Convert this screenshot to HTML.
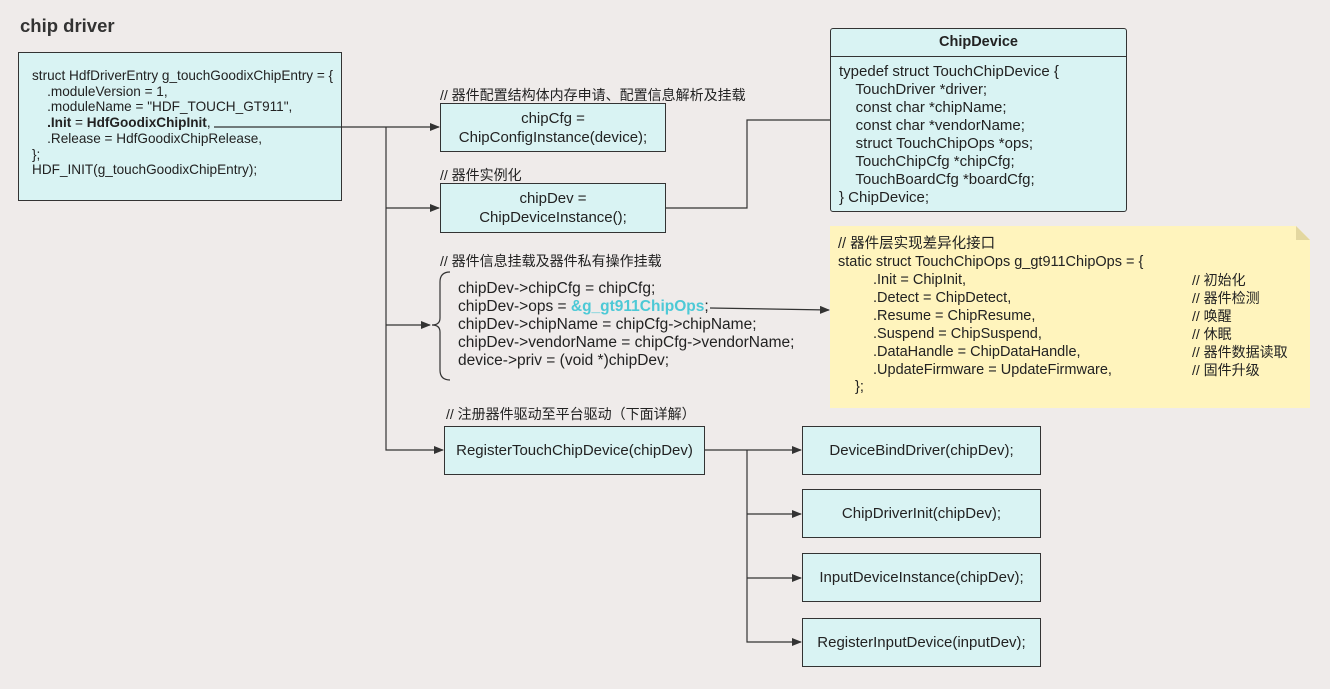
<!DOCTYPE html>
<html><head><meta charset="utf-8"><style>
body{margin:0;width:1330px;height:689px;background:#efebea;position:relative;overflow:hidden;font-family:"Liberation Sans","Noto Sans CJK SC",sans-serif;color:#222}
.a{position:absolute}
.box{position:absolute;background:#d9f3f3;border:1.3px solid #333;box-sizing:border-box}
.c{display:flex;align-items:center;justify-content:center;text-align:center;font-size:15px;line-height:19px}
.t{font-size:13.6px;line-height:15.7px;white-space:pre}
.lbl{position:absolute;font-size:14px;white-space:pre}
</style></head><body>
<div class="a" style="left:20px;top:15px;font-size:18.5px;font-weight:bold;color:#333">chip driver</div>
<div class="box" style="left:18px;top:52px;width:324px;height:149px"><div class="t" style="position:absolute;left:13px;top:15px">struct HdfDriverEntry g_touchGoodixChipEntry = {
    .moduleVersion = 1,
    .moduleName = "HDF_TOUCH_GT911",
    <b>.Init</b> = <b>HdfGoodixChipInit</b>,
    .Release = HdfGoodixChipRelease,
};
HDF_INIT(g_touchGoodixChipEntry);</div></div>

<svg class="a" style="left:0;top:0" width="1330" height="689">
<defs><marker id="m" markerWidth="10" markerHeight="8" refX="9" refY="4" orient="auto" markerUnits="userSpaceOnUse"><path d="M0,0 L10,4 L0,8z" fill="#333"/></marker></defs>
<g stroke="#333" stroke-width="1.2" fill="none">
<path d="M214,127 H439" marker-end="url(#m)"/>
<path d="M386,127 V450 H443" marker-end="url(#m)"/>
<path d="M386,208 H439" marker-end="url(#m)"/>
<path d="M386,325 H430" marker-end="url(#m)"/>
<path d="M665,208 H747 V120 H830"/>
<path d="M710,308 L829,310" marker-end="url(#m)"/>
<path d="M704,450 H801" marker-end="url(#m)"/>
<path d="M747,450 V642 H801" marker-end="url(#m)"/>
<path d="M747,514 H801" marker-end="url(#m)"/>
<path d="M747,578 H801" marker-end="url(#m)"/>
<path d="M450,272 Q440,272 440,282 V318 Q440,325 432,325 Q440,325 440,332 V370 Q440,380 450,380"/>
</g>
<path d="M830,226 H1296 L1310,240 V408 H830Z" fill="#fff4bd"/>
<path d="M1296,226 L1310,240 H1296Z" fill="#e3d7a0"/>
</svg>

<div class="lbl" style="left:440px;top:85px">// 器件配置结构体内存申请、配置信息解析及挂载</div>
<div class="box c" style="left:440px;top:103px;width:226px;height:49px">chipCfg =<br>ChipConfigInstance(device);</div>
<div class="lbl" style="left:440px;top:165px">// 器件实例化</div>
<div class="box c" style="left:440px;top:183px;width:226px;height:50px">chipDev =<br>ChipDeviceInstance();</div>

<div class="box" style="left:830px;top:28px;width:297px;height:184px;border-radius:3px">
<div style="height:27px;border-bottom:1.3px solid #333;text-align:center;font-weight:bold;font-size:14.5px;line-height:27px">ChipDevice</div>
<div style="position:absolute;left:8px;top:34px;font-size:15px;line-height:18px;white-space:pre">typedef struct TouchChipDevice {
    TouchDriver *driver;
    const char *chipName;
    const char *vendorName;
    struct TouchChipOps *ops;
    TouchChipCfg *chipCfg;
    TouchBoardCfg *boardCfg;
} ChipDevice;</div></div>

<div class="lbl" style="left:440px;top:251px">// 器件信息挂载及器件私有操作挂载</div>
<div class="a" style="left:458px;top:280px;font-size:15.5px;line-height:18px;white-space:pre">chipDev-&gt;chipCfg = chipCfg;
chipDev-&gt;ops = <b style="color:#4dc9d6">&amp;g_gt911ChipOps</b>;
chipDev-&gt;chipName = chipCfg-&gt;chipName;
chipDev-&gt;vendorName = chipCfg-&gt;vendorName;
device-&gt;priv = (void *)chipDev;</div>

<div class="a" style="left:838px;top:235px;font-size:14.5px;line-height:18px;white-space:pre">// 器件层实现差异化接口
static struct TouchChipOps g_gt911ChipOps = {</div>
<div class="a" style="left:873px;top:271px;font-size:14.5px;line-height:18px;white-space:pre">.Init = ChipInit,
.Detect = ChipDetect,
.Resume = ChipResume,
.Suspend = ChipSuspend,
.DataHandle = ChipDataHandle,
.UpdateFirmware = UpdateFirmware,</div>
<div class="a" style="left:1192px;top:271px;font-size:14px;line-height:18px;white-space:pre">// 初始化
// 器件检测
// 唤醒
// 休眠
// 器件数据读取
// 固件升级</div>
<div class="a" style="left:855px;top:379px;font-size:14.5px">};</div>

<div class="lbl" style="left:446px;top:404px">// 注册器件驱动至平台驱动（下面详解）</div>
<div class="box c" style="left:444px;top:426px;width:261px;height:49px">RegisterTouchChipDevice(chipDev)</div>
<div class="box c" style="left:802px;top:426px;width:239px;height:49px">DeviceBindDriver(chipDev);</div>
<div class="box c" style="left:802px;top:489px;width:239px;height:49px">ChipDriverInit(chipDev);</div>
<div class="box c" style="left:802px;top:553px;width:239px;height:49px">InputDeviceInstance(chipDev);</div>
<div class="box c" style="left:802px;top:618px;width:239px;height:49px">RegisterInputDevice(inputDev);</div>
</body></html>
